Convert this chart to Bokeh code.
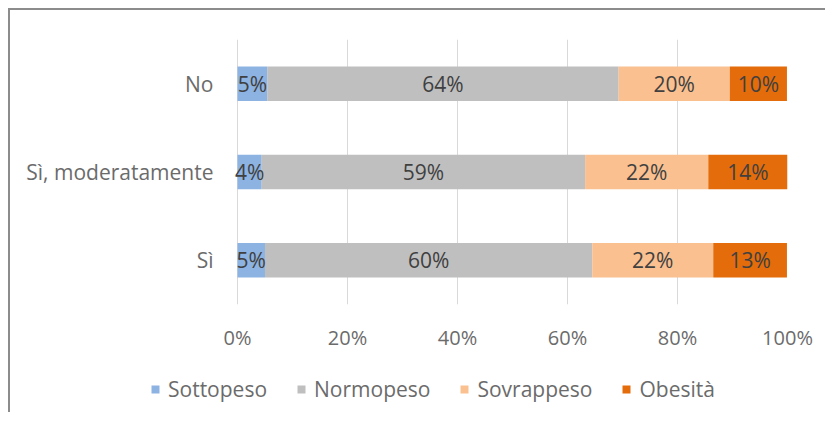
from bokeh.plotting import figure
from bokeh.layouts import column
from bokeh.models import (ColumnDataSource, FactorRange, Range1d, FixedTicker,
                          PrintfTickFormatter, Legend, LegendItem, LabelSet)
from bokeh.core.properties import value
from bokeh.embed import file_html
from bokeh.resources import INLINE

categories = ["Sì", "Sì, moderatamente", "No"]
series = ["Sottopeso", "Normopeso", "Sovrappeso", "Obesità"]
sottopeso = [5.0, 4.4, 5.4]
normopeso = [59.5, 58.8, 63.9]
sovrappeso = [22.0, 22.4, 20.2]
obesita = [13.4, 14.4, 10.4]
colors = ["#8db3e2", "#bfbfbf", "#fac090", "#e46c0a"]
x_ticks = [0, 20, 40, 60, 80, 100]

FONT = "Open Sans"

data = {"cat": categories, "Sottopeso": sottopeso, "Normopeso": normopeso,
        "Sovrappeso": sovrappeso, "Obesità": obesita}

# main chart: frame starts left of the 0% line (same left edge as the legend strip)
p = figure(width=815, height=352, y_range=FactorRange(*categories, range_padding=0),
           x_range=Range1d(-19.45, 100), output_backend="svg", toolbar_location=None,
           min_border_left=120, min_border_right=38, min_border_top=29,
           min_border_bottom=58)
p.outline_line_color = None

# legend strip below the chart
lf = figure(width=815, height=50, y_range=FactorRange(*categories),
            x_range=Range1d(200, 300), output_backend="svg", toolbar_location=None,
            x_axis_type=None, y_axis_type=None, min_border_left=120,
            min_border_right=38, min_border_top=0, min_border_bottom=0)
lf.outline_line_color = None
lf.grid.grid_line_color = None

items = []
left_acc = [0.0] * len(categories)
for name, col in zip(series, colors):
    vals = data[name]
    lefts = list(left_acc)
    rights = [a + v for a, v in zip(lefts, vals)]
    src = ColumnDataSource(dict(cat=categories, left=lefts, right=rights,
                                mid=[(a + b) / 2 for a, b in zip(lefts, rights)],
                                lbl=["%d%%" % round(v) for v in vals]))
    p.hbar(y="cat", left="left", right="right", height=0.39, source=src,
           fill_color=col, line_color=None)
    labels = LabelSet(x="mid", y="cat", text="lbl", source=src, text_align="center",
                      text_baseline="middle", text_font=value(FONT),
                      text_font_size="21px", text_color="#404040")
    p.add_layout(labels)
    # same series in the legend strip (hidden), used only for the legend swatches
    lr = lf.hbar(y="cat", left="left", right="right", height=0.39, source=src,
                 fill_color=col, line_color=None, visible=False)
    items.append(LegendItem(label=name, renderers=[lr]))
    left_acc = rights

p.xaxis.ticker = FixedTicker(ticks=x_ticks)
p.xaxis.formatter = PrintfTickFormatter(format="%d%%")
p.xaxis.axis_line_color = None
p.xaxis.major_tick_line_color = None
p.xaxis.minor_tick_line_color = None
p.xaxis.major_label_text_font = FONT
p.xaxis.major_label_text_font_size = "20px"
p.xaxis.major_label_text_color = "#6b6b6b"
p.xaxis.major_label_standoff = 13

p.yaxis.axis_line_color = None
p.yaxis.major_tick_line_color = None
p.yaxis.major_tick_out = 0
p.yaxis.major_tick_in = 0
p.yaxis.major_label_text_font = FONT
p.yaxis.major_label_text_font_size = "21px"
p.yaxis.major_label_text_color = "#6b6b6b"
p.yaxis.major_label_standoff = -83

p.ygrid.grid_line_color = None
p.xgrid.grid_line_color = "#d9d9d9"

legend = Legend(items=items, orientation="horizontal", location=(20, 9),
                label_text_font=FONT, label_text_font_size="21px",
                label_text_color="#6b6b6b", glyph_width=10, glyph_height=10,
                label_standoff=8, spacing=29, padding=0, margin=0,
                border_line_color=None, background_fill_alpha=0)
lf.add_layout(legend, "center")

layout = column(p, lf, spacing=0)
layout.styles = {"border-top": "2px solid #8c8c8c", "border-left": "2px solid #8c8c8c",
                 "margin-top": "8px", "margin-left": "8px"}

open("out.html", "w").write(file_html(layout, INLINE))
